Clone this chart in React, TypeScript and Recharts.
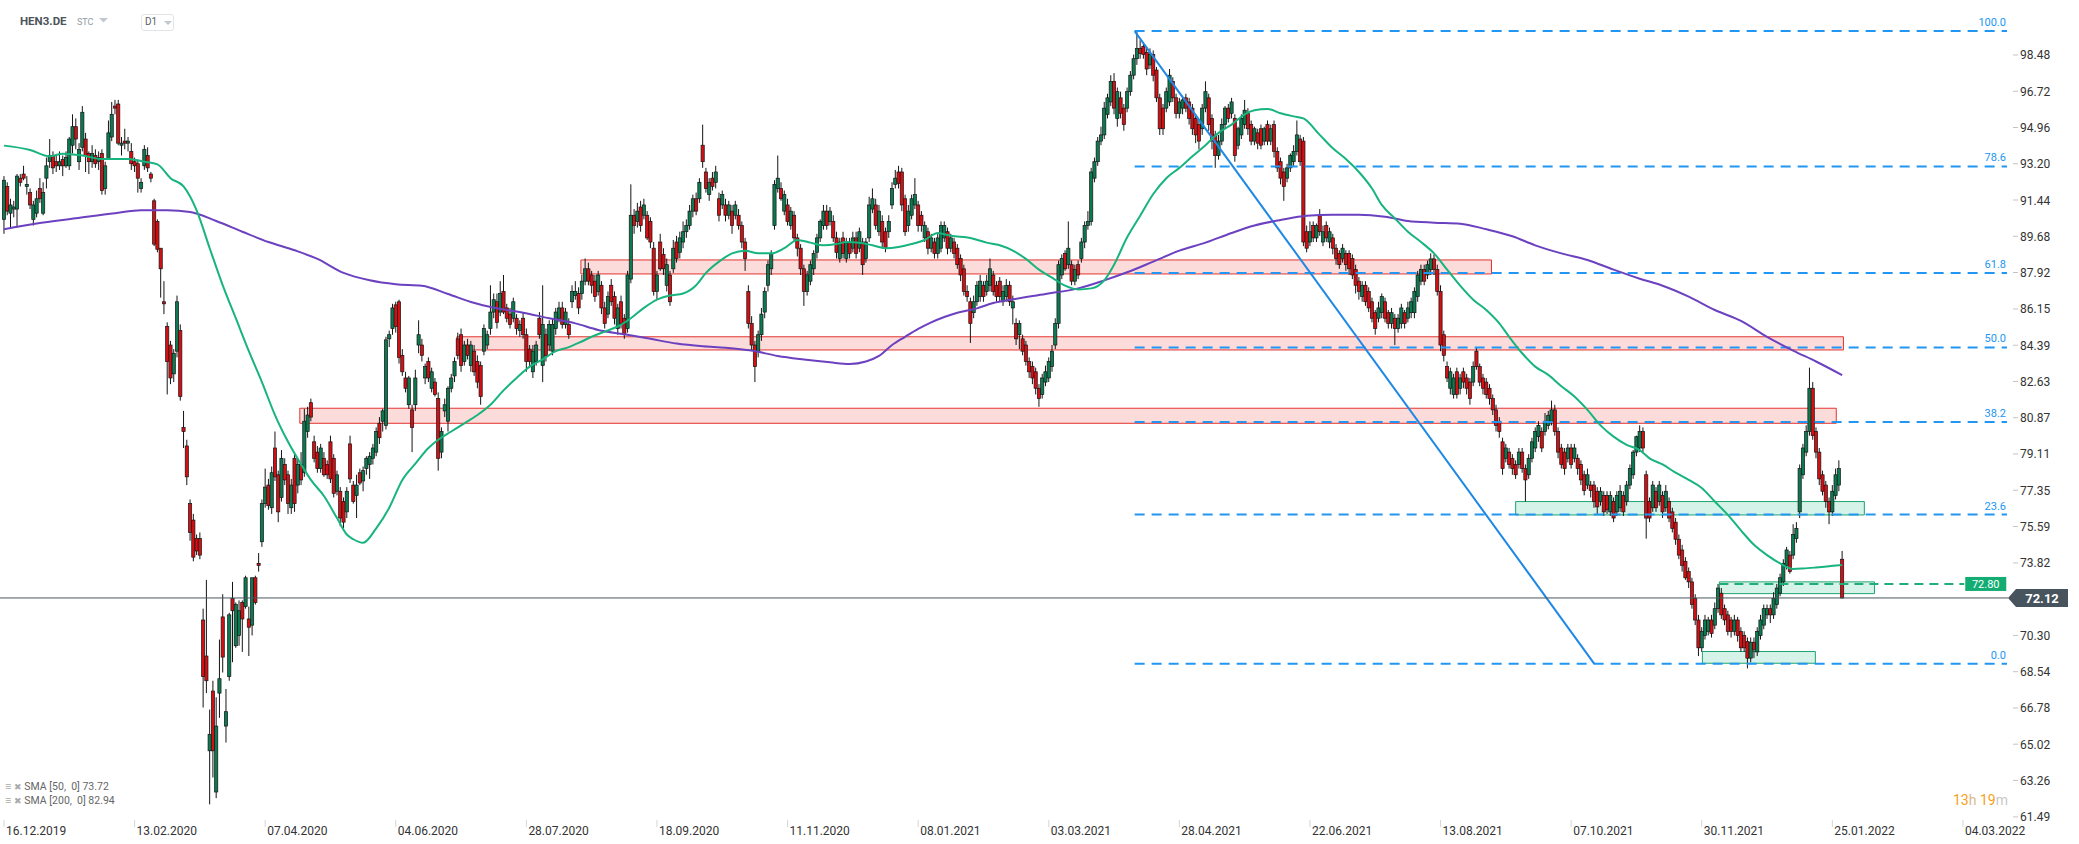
import React from 'react';
import { ComposedChart, Bar, Line, XAxis, YAxis, ReferenceLine, ReferenceArea } from 'recharts';

type C = [number, number, number, number]; // open, high, low, close

const candles2019: C[] = [
  [90.5,92.6,89.8,92.4],[92.1,92.3,90.7,90.9],[90.8,91.5,90.1,91.2],[91.0,91.4,90.6,91.1],[91.0,92.7,90.1,92.6],
  [92.5,92.7,92.1,92.3],[92.7,93.1,92.4,92.5],[92.1,92.6,91.7,92.2],[91.8,92.0,91.0,91.2],[90.5,91.4,90.2,91.2],
  [90.8,91.9,90.6,91.5],[92.0,92.5,91.3,91.5],[90.8,92.3,90.7,91.8],[92.5,93.5,92.0,93.1],[93.3,94.4,93.0,93.6],
  [93.6,93.8,92.7,93.0],[93.3,93.6,92.8,93.1],[93.1,93.8,92.9,93.3],[93.4,93.6,92.6,93.1],[93.1,93.8,93.0,93.5],
  [93.1,94.5,92.9,94.4],[94.1,95.6,93.7,95.0],[95.0,95.4,93.9,94.4],[93.3,94.2,92.9,93.9],[94.0,96.0,93.8,95.7],
  [94.4,94.7,92.8,93.6],[93.7,93.8,92.7,93.3],[93.3,94.1,93.0,93.7],[93.6,93.9,93.0,93.2],[93.3,93.8,92.9,93.5],
  [93.7,93.9,91.7,91.9],[92.0,93.3,91.7,93.1],[93.4,95.3,93.4,94.7],[94.5,96.2,94.3,95.6],[96.0,96.3,95.6,95.9],
  [96.1,96.3,94.1,94.2],[94.1,94.5,93.6,94.2],[94.3,94.9,93.9,94.2],[94.2,94.5,93.8,94.3],[93.8,94.2,92.9,93.2],
  [93.3,93.5,92.8,93.1],[93.2,93.4,91.8,92.5],[92.0,92.5,91.8,92.3],[93.1,94.1,92.9,93.9],[93.6,94.0,92.8,93.0],
  [92.7,92.8,92.3,92.5],[91.4,91.5,89.2,89.3],[90.4,90.5,88.9,89.05],[89.1,89.1,86.7,88.1],[86.5,87.5,85.9,86.4],
];

const candles2020a: C[] = [
  [85.3,85.5,82.0,83.6],[84.4,84.6,82.5,82.8],[83.0,84.2,82.6,84.0],[84.1,86.8,83.8,86.5],[85.1,85.4,81.7,81.9],
  [80.4,81.2,79.4,80.2],[79.5,79.8,77.6,78.0],[76.7,76.9,74.9,75.3],[75.9,76.2,73.9,74.1],[75.0,75.2,74.2,74.4],
  [75.0,75.3,74.0,74.2],[71.05,71.6,66.8,68.3],[69.3,73.0,67.5,68.1],[64.7,66.7,62.1,65.5],[67.6,68.1,63.4,64.7],
  [62.7,67.3,62.4,65.9],[67.5,70.1,66.3,68.2],[71.2,72.3,68.5,69.25],[65.9,67.7,65.1,66.6],[68.3,71.4,68.1,71.3],
  [72.1,72.9,69.0,71.5],[69.8,71.9,69.7,71.8],[70.3,72.0,69.8,71.5],[71.9,72.0,69.5,71.1],[71.7,73.2,71.6,73.1],
  [71.1,71.7,69.3,70.7],[70.8,73.1,70.3,73.1],[73.1,73.2,71.8,71.9],[73.8,74.3,73.4,73.7],[74.85,76.9,74.6,76.7],
  [76.7,78.4,76.5,77.5],[77.6,77.9,76.4,76.6],[76.5,78.5,76.2,78.2],[79.4,80.2,77.8,78.0],[78.1,78.3,75.8,76.3],
  [77.0,79.3,76.8,78.9],[78.6,78.9,77.6,77.85],[78.1,78.3,76.2,76.7],[76.5,77.9,76.2,77.6],[78.9,79.2,76.3,76.7],
  [77.6,78.9,77.2,78.6],[78.6,79.2,77.6,77.85],[78.2,81.3,78.0,80.7],[80.2,81.4,79.9,81.0],[81.6,81.8,80.7,80.9],
  [79.7,80.0,78.7,78.9],[79.2,79.5,78.2,78.4],[78.4,79.6,78.2,79.4],[78.9,79.2,78.0,78.1],[78.6,78.8,77.9,78.1],
  [79.7,80.0,77.7,77.9],[78.9,79.1,77.0,77.2],[77.3,78.3,77.1,78.1],[77.3,77.5,75.6,76.0],[76.8,77.0,75.5,75.8],
  [76.3,77.5,76.0,77.3],[79.6,80.0,77.7,77.9],[77.6,77.8,76.7,76.8],[77.1,78.1,76.0,77.6],[78.2,78.4,77.6,77.7],
  [77.8,78.5,77.3,78.3],[78.4,79.0,78.1,78.9],[78.6,79.2,77.9,79.0],[78.9,79.6,78.6,79.4],[79.2,80.4,79.0,80.2],
  [80.6,80.9,79.6,79.9],[80.7,81.3,80.2,81.2],[80.5,84.8,80.3,84.65],[84.7,85.1,84.3,84.9],[85.2,86.4,84.9,86.2],
  [86.35,86.5,85.0,85.3],[86.5,86.6,83.5,83.8],[83.9,84.2,82.9,83.1],[82.8,83.1,82.1,82.3],[81.5,82.9,81.3,82.8],
  [81.25,81.5,79.2,80.4],[81.5,83.2,81.2,82.8],[84.4,85.6,84.0,84.9],[84.4,84.7,83.6,83.9],[82.8,83.5,82.5,83.35],
];

const candles2020b: C[] = [
  [83.6,83.8,82.6,82.8],[82.3,83.3,82.1,83.1],[82.6,82.8,81.9,82.0],[81.8,82.1,78.3,78.9],[79.2,80.4,78.9,80.2],
  [81.2,81.8,80.9,81.5],[80.7,82.4,80.2,82.3],[82.3,83.0,82.1,82.8],[82.9,83.8,82.6,83.6],[84.7,85.0,83.7,83.9],
  [84.9,85.2,83.1,83.4],[83.6,84.6,83.4,84.4],[84.4,84.7,83.7,83.9],[83.4,84.6,83.1,84.4],[84.1,84.4,82.9,83.1],
  [83.6,83.9,82.3,82.6],[83.4,83.6,81.5,81.9],[84.1,85.4,83.9,85.2],[84.4,85.1,84.2,84.9],[85.2,87.3,84.9,86.0],
  [86.0,86.9,85.7,86.6],[86.5,86.9,85.2,85.5],[86.0,87.5,85.8,86.9],[87.0,87.8,85.9,86.0],[86.2,86.4,85.5,85.7],
  [85.9,86.2,85.2,85.4],[85.7,86.7,85.5,86.5],[85.7,85.9,84.9,85.2],[85.1,85.6,84.8,85.4],[85.7,86.0,84.7,84.9],
  [84.9,85.2,83.1,83.6],[84.2,84.4,83.3,83.6],[83.1,84.4,82.8,84.1],[83.6,84.6,83.4,84.4],[85.7,86.0,84.7,84.9],
  [83.4,87.3,82.6,85.4],[84.9,85.2,83.6,83.9],[84.4,85.6,84.1,85.4],[84.1,85.7,83.9,85.4],[85.2,86.2,84.9,86.0],
  [85.7,86.5,85.5,86.2],[86.2,86.5,85.2,85.4],[85.4,86.2,85.2,86.0],[85.4,85.7,84.7,84.9],[86.5,87.3,86.2,87.0],
  [86.8,87.5,86.6,87.0],[86.9,87.2,85.9,86.2],[86.9,87.8,86.6,87.5],[87.5,88.6,87.3,88.1],[88.1,88.4,87.3,87.5],
  [87.8,88.0,86.9,87.3],[87.5,87.8,86.5,86.75],[87.0,88.0,86.8,87.8],[87.3,87.5,85.9,86.2],[86.2,86.5,85.2,85.45],
  [85.9,87.0,85.7,86.75],[87.3,87.6,86.3,86.5],[86.75,87.0,85.4,85.7],[85.2,86.4,84.9,86.2],[86.5,86.8,85.2,85.45],
  [85.7,85.9,84.7,84.9],[85.2,88.0,85.0,87.8],[87.6,92.2,87.4,90.7],[90.7,91.0,89.8,90.2],[90.4,91.3,90.1,90.9],
  [91.1,91.4,89.9,90.2],[90.7,91.5,90.5,91.2],[90.7,90.9,89.5,89.6],[90.4,90.6,89.1,89.4],[89.1,89.4,86.8,87.0],
  [87.0,88.0,86.6,87.8],[89.4,89.8,88.0,88.1],[88.8,89.1,87.8,88.1],[87.3,88.6,87.0,88.3],[87.8,88.0,86.3,86.5],
  [88.1,89.5,87.9,89.1],[89.4,89.7,88.4,88.6],[88.9,89.9,88.6,89.6],[89.4,90.4,89.1,89.9],[89.9,90.5,89.6,90.2],
];

const candles2021a: C[] = [
  [90.2,91.2,90.0,90.9],[90.9,91.7,90.6,91.5],[91.5,91.8,90.7,90.9],[91.5,92.5,91.3,92.3],[94.1,95.1,93.0,93.3],
  [92.8,93.0,91.8,92.0],[91.7,92.5,91.4,92.3],[92.5,92.8,91.9,92.1],[92.3,93.1,92.0,92.8],[91.5,91.8,90.4,90.7],
  [91.2,91.9,91.0,91.7],[91.2,91.5,90.4,90.7],[90.7,91.4,90.5,91.2],[90.9,91.2,89.8,90.2],[90.7,91.4,90.5,91.2],
  [90.7,91.0,90.0,90.2],[90.2,90.4,89.1,89.4],[89.4,89.6,88.0,88.6],[87.0,87.3,85.2,85.45],[85.45,85.8,84.1,84.4],
  [84.4,84.6,82.6,83.35],[84.1,85.1,83.8,84.9],[84.9,86.2,84.6,85.9],[86.0,87.2,85.7,87.0],[87.3,88.5,87.0,88.3],
  [88.1,89.0,87.8,88.85],[90.2,92.4,90.0,92.2],[92.0,93.6,91.8,92.5],[92.0,92.3,91.4,91.5],[90.9,91.9,90.7,91.7],
  [91.2,91.5,90.2,90.4],[90.2,91.1,90.0,90.9],[90.7,90.9,89.4,89.6],[89.6,89.8,88.7,89.1],[89.1,89.3,87.8,88.1],
  [88.1,88.3,86.3,87.0],[87.0,88.0,86.8,87.8],[87.5,88.5,87.3,88.3],[88.1,89.0,87.8,88.85],[88.9,89.8,88.6,89.6],
  [89.6,90.5,89.4,90.4],[90.2,91.2,90.0,90.9],[90.9,91.2,90.0,90.2],[90.4,91.1,90.2,90.9],[90.4,90.7,89.4,89.6],
  [89.6,89.9,88.6,88.9],[88.6,89.6,88.4,89.4],[89.6,89.9,88.6,88.85],[88.6,89.6,88.4,89.4],[89.4,89.6,88.6,88.85],
  [89.1,89.9,88.9,89.6],[89.6,89.9,88.6,88.85],[89.1,90.1,88.9,89.9],[89.4,89.6,87.8,88.3],[88.6,89.6,88.4,89.4],
  [89.6,91.6,89.4,91.2],[91.0,92.0,90.8,91.5],[91.2,91.5,90.0,90.2],[89.9,91.2,89.7,90.9],[90.4,90.7,89.1,89.4],
  [89.9,90.1,88.9,89.1],[89.9,90.7,89.6,90.4],[91.2,92.3,91.0,92.0],[92.2,92.9,92.0,92.5],[92.8,93.1,92.0,92.25],
  [92.8,93.0,90.9,91.2],[91.5,91.7,89.7,89.9],[90.2,91.2,89.9,90.9],[90.7,91.7,90.5,91.5],[91.2,92.5,91.0,91.7],
  [91.2,91.4,89.9,90.2],[90.7,90.9,89.9,90.2],[89.6,90.4,89.4,90.2],[89.9,90.1,88.8,89.1],[89.1,89.8,88.9,89.6],
  [89.4,89.6,88.6,88.85],[88.85,89.8,88.6,89.6],[89.1,90.4,88.9,90.2],[89.6,90.4,89.4,90.2],[89.9,90.1,88.8,89.1],
];

const candles2021b: C[] = [
  [89.1,89.8,88.9,89.6],[89.4,89.6,88.6,88.85],[89.1,89.3,88.1,88.3],[88.6,88.8,87.5,87.8],[88.1,88.3,86.8,87.0],
  [87.0,87.3,86.5,86.75],[86.5,86.7,84.5,85.45],[85.97,86.8,85.7,86.5],[86.5,87.5,86.3,87.3],[86.75,87.8,86.5,87.5],
  [87.3,87.5,86.5,86.75],[87.0,87.8,86.8,87.5],[87.3,88.6,87.0,88.1],[87.8,88.0,86.8,87.0],[87.3,87.5,86.5,86.75],
  [87.5,87.7,86.5,86.75],[86.5,87.3,86.3,87.0],[86.75,87.6,86.5,87.3],[87.3,87.5,86.3,86.5],[86.2,86.8,85.4,86.5],
  [85.45,85.7,84.4,84.7],[84.9,85.6,84.2,85.45],[84.7,84.9,83.9,84.1],[84.4,84.6,83.4,83.6],[83.6,83.8,82.8,83.1],
  [83.35,83.6,82.5,82.8],[83.1,83.3,82.0,82.3],[82.3,82.5,81.4,81.8],[82.0,83.0,81.8,82.8],[82.6,83.4,82.4,83.1],
  [82.8,83.8,82.6,83.6],[83.35,84.4,83.1,84.1],[84.4,85.7,84.2,85.45],[85.45,88.5,85.2,88.3],[87.8,88.8,87.6,88.6],
  [88.85,89.0,88.0,88.1],[88.3,90.4,88.1,89.1],[88.3,88.5,87.3,87.5],[87.5,88.3,87.3,88.06],[88.3,88.5,87.6,87.8],
  [88.6,89.6,88.4,89.4],[89.4,90.4,89.1,90.2],[90.2,90.9,90.0,90.4],[90.4,93.0,90.2,92.8],[92.5,93.5,92.3,93.3],
  [93.3,94.5,93.1,94.3],[94.3,95.0,94.1,94.6],[94.6,96.2,94.4,95.9],[95.6,96.6,95.4,96.4],[96.2,97.5,96.0,97.2],
  [97.2,97.6,95.6,95.9],[95.4,96.9,95.0,96.7],[96.4,96.7,95.4,95.65],[95.9,96.1,94.8,95.1],[95.9,96.9,95.7,96.7],
  [96.7,97.7,96.5,97.5],[97.5,98.5,97.3,98.3],[98.3,99.6,98.0,98.8],[98.8,99.2,98.3,98.55],[98.9,99.1,98.3,98.5],
  [98.6,98.8,97.5,97.8],[98.0,98.8,97.8,98.5],[98.5,98.7,97.2,97.5],[97.75,97.9,96.2,96.4],[96.4,96.6,94.6,94.9],
  [95.9,96.1,94.6,94.9],[95.9,96.9,95.7,96.7],[96.2,97.8,96.0,97.5],[97.2,97.4,96.2,96.4],[96.4,96.6,95.4,95.65],
  [95.65,96.4,95.4,96.2],[95.9,96.5,95.6,96.3],[96.4,96.6,95.7,95.9],[96.2,96.4,95.1,95.4],[95.9,96.1,94.6,94.9],
  [95.4,95.6,94.2,94.6],[95.1,95.3,93.9,94.3],[94.9,96.1,94.6,95.9],[95.9,97.2,95.7,96.7],[96.4,96.6,94.8,95.1],
  [95.4,95.6,93.9,94.3],[94.6,94.8,93.0,93.6],[93.6,94.6,93.4,94.3],[94.3,95.4,94.1,95.1],[95.1,96.0,94.9,95.9],
  [95.9,96.1,95.2,95.4],[95.65,96.4,95.4,96.2],[95.4,95.6,93.3,93.6],[94.1,95.0,93.9,94.9],[94.6,95.6,94.4,95.4],
  [95.1,96.3,94.9,95.8],[95.65,95.9,94.6,94.9],[95.1,95.3,94.1,94.3],[94.3,95.0,94.1,94.9],[94.7,94.9,93.9,94.2],
  [94.9,95.1,93.9,94.1],[94.3,95.0,94.1,94.9],[95.1,95.3,94.1,94.3],[94.3,95.1,94.1,94.9],[95.1,95.3,93.5,93.8],
  [93.8,94.0,92.8,93.0],[93.3,93.5,92.2,92.5],[92.8,93.0,91.4,92.1],[92.5,93.2,92.3,93.0],[93.0,93.7,92.8,93.6],
  [93.3,94.1,93.1,93.8],[93.8,95.3,93.6,94.6],[94.4,94.6,93.1,93.3],[94.3,94.5,89.2,89.4],[89.9,90.2,88.9,89.1],
  [89.4,90.4,89.2,89.9],[90.2,90.4,89.4,89.6],[89.6,90.3,89.4,90.2],[90.7,91.0,89.7,89.9],[89.4,90.2,89.2,89.9],
  [90.2,90.4,89.4,89.6],[89.4,90.1,89.1,89.9],[89.6,89.8,88.8,89.1],[89.1,89.3,88.3,88.6],[88.85,89.0,88.1,88.3],
  [88.6,89.3,88.4,89.1],[88.85,89.0,88.0,88.3],[88.85,89.0,87.8,88.1],[88.6,88.8,87.6,87.8],[88.06,88.3,86.9,87.3],
  [87.5,87.7,86.6,87.0],[86.75,87.5,86.5,87.3],[87.3,87.5,86.3,86.5],[87.0,87.2,86.0,86.2],
];

const candles2021c: C[] = [
  [86.5,86.7,85.5,85.7],[85.97,86.1,84.9,85.2],[85.7,86.5,85.5,86.2],[85.97,86.9,85.7,86.75],[86.5,86.7,85.5,85.7],
  [85.97,86.1,85.2,85.45],[85.45,86.2,85.2,85.97],[85.7,85.9,84.4,85.2],[85.2,85.9,85.0,85.7],[85.45,86.4,85.2,86.2],
  [85.97,86.1,85.2,85.45],[85.7,86.5,85.5,86.2],[85.97,86.7,85.7,86.5],[85.97,87.2,85.7,87.0],[86.75,88.0,86.5,87.8],
  [87.5,88.3,87.3,88.06],[88.06,88.3,87.3,87.5],[87.8,88.5,87.6,88.3],[88.06,88.85,87.8,88.58],[88.58,88.8,87.8,88.06],
  [88.06,88.3,86.8,87.0],[87.0,87.3,84.1,84.4],[84.9,85.1,83.6,83.9],[83.35,83.6,82.6,82.8],[82.3,83.3,82.0,83.1],
  [82.0,83.0,81.8,82.8],[83.1,83.3,81.8,82.0],[82.3,83.0,82.0,82.8],[83.1,83.3,82.3,82.6],[82.8,83.0,82.0,82.3],
  [82.6,82.8,81.5,81.8],[82.6,83.6,82.4,83.35],[84.1,84.3,83.2,83.35],[83.35,83.5,82.4,82.6],[82.8,83.0,82.0,82.3],
  [82.6,82.8,81.8,82.0],[82.3,82.5,81.5,81.8],[81.8,82.0,81.0,81.25],[81.25,81.5,80.2,80.5],[80.7,80.9,79.9,80.2],
  [79.7,79.9,78.1,78.4],[78.9,79.6,78.7,79.4],[79.2,79.4,78.4,78.6],[78.9,79.1,78.1,78.4],[78.6,78.8,77.9,78.1],
  [78.6,79.4,78.4,79.2],[79.2,79.4,78.2,78.4],[78.4,78.6,76.8,77.85],[78.1,79.1,77.9,78.9],[78.9,79.9,78.7,79.7],
  [79.4,80.4,79.2,80.2],[79.95,80.7,79.7,80.5],[80.2,80.4,79.2,79.4],[80.2,81.1,80.0,80.7],[80.5,81.2,80.3,80.99],
  [80.7,81.7,80.5,81.25],[81.25,81.5,80.0,80.2],[80.2,80.4,78.9,79.2],[79.4,79.6,78.4,78.6],[79.2,79.4,78.1,78.4],
  [78.9,79.6,78.7,79.4],[79.4,79.6,78.4,78.6],[78.9,79.6,78.7,79.4],[78.9,79.1,78.1,78.4],[78.6,78.8,77.6,77.85],
  [78.1,78.3,77.1,77.33],[77.6,78.4,77.4,78.1],[77.6,77.8,77.0,77.33],[77.6,77.8,76.5,76.8],[77.3,77.5,76.2,76.54],
  [76.8,77.5,76.6,77.3],[77.1,77.3,76.1,76.3],[77.1,77.3,76.2,76.4],[76.3,77.3,76.1,77.1],[76.8,77.0,75.8,76.0],
  [76.3,77.3,76.1,77.1],[76.5,77.6,76.3,77.3],[77.1,77.3,76.1,76.3],[76.8,77.8,76.6,77.6],[77.6,78.6,77.4,78.4],
  [78.1,79.3,77.9,79.2],[79.2,80.0,79.0,79.95],[79.4,80.5,79.2,80.2],[80.2,80.4,79.2,79.4],[78.1,78.3,75.0,76.0],
  [76.8,77.0,75.8,76.0],[76.5,77.8,76.3,77.6],[77.3,77.5,76.3,76.5],[76.8,77.8,76.6,77.6],[77.1,77.3,76.0,76.3],
  [76.5,77.6,76.3,77.3],[76.8,77.0,75.8,76.0],[76.3,76.5,75.3,75.5],[75.8,76.0,74.7,74.97],[74.97,75.2,74.0,74.2],
  [74.45,74.7,73.4,73.7],[73.9,74.1,73.0,73.1],[73.4,73.6,72.6,72.9],[72.9,73.1,71.6,71.8],[72.1,72.3,70.8,71.05],
  [71.05,71.3,69.3,69.7],[69.7,70.7,69.5,70.5],[70.3,71.3,70.1,71.05],[70.5,71.2,70.3,71.05],[71.05,71.3,70.2,70.4],
  [70.8,71.9,70.6,71.6],[71.6,72.8,71.4,72.6],[72.35,72.6,71.1,71.3],[71.6,71.8,70.8,71.05],[71.3,71.5,70.3,70.5],
  [71.05,71.2,70.2,70.5],[70.5,71.3,70.3,71.05],[71.05,71.2,70.0,70.3],[70.5,70.7,69.5,69.7],[70.3,70.5,69.5,69.7],
  [70.0,70.2,68.7,69.2],[69.2,70.2,69.0,69.97],[69.97,70.2,69.2,69.6],[69.5,70.7,69.3,70.5],[70.3,71.3,70.1,71.05],
  [70.8,71.8,70.6,71.6],[71.3,71.8,71.1,71.6],[71.6,71.8,70.9,71.3],[71.3,72.4,71.1,72.1],[71.8,72.8,71.6,72.6],
  [72.35,73.3,72.2,73.1],[72.9,74.0,72.7,73.8],[73.7,74.6,73.5,74.45],[74.2,74.4,73.3,73.4],
];

const candles2022: C[] = [
  [74.2,75.7,74.0,75.2],[75.0,75.8,74.8,75.5],[76.3,78.6,76.0,78.4],[78.1,79.6,77.9,79.4],[79.2,80.5,79.0,80.2],
  [80.2,83.3,80.0,82.3],[82.3,82.6,79.8,80.0],[80.2,80.4,78.9,79.2],[79.2,79.4,77.6,77.9],[78.1,78.3,77.1,77.3],
  [77.6,77.8,76.5,76.8],[76.8,77.0,75.7,76.3],[76.3,77.6,76.1,77.3],[77.1,78.4,76.9,78.1],[77.6,78.8,77.3,78.4],
  [74.0,74.4,72.1,72.12],
];

// SMA readings: [candle index, value]
const sma50Points: [number, number][] = [
  [0,94.08],[8,93.87],[14,93.56],[18,93.69],[24,93.6],[30,93.43],[38,93.43],[43,93.3],[47,93.17],[51,92.5],
  [55,92.1],[59,90.94],[63,89.1],[67,87.3],[71,85.7],[75,84.1],[79,82.6],[83,81.0],[87,79.7],[91,78.6],
  [94,77.85],[98,77.07],[102,76.0],[105,75.2],[107,74.97],[110,74.8],[114,75.5],[118,76.5],[122,77.85],[126,78.64],
  [130,79.4],[133,79.8],[137,80.2],[141,80.6],[145,81.0],[149,81.5],[153,82.2],[157,82.8],[161,83.35],[165,83.7],
  [169,84.1],[173,84.3],[176,84.5],[180,84.8],[184,85.05],[188,85.3],[192,85.7],[196,86.2],[200,86.6],[204,86.8],
  [208,86.9],[212,87.3],[215,87.9],[219,88.45],[223,88.85],[227,88.98],[231,88.85],[235,88.85],[239,89.1],[243,89.5],
  [247,89.37],[251,89.24],[255,89.3],[258,89.4],[262,89.37],[266,89.24],[270,89.1],[274,89.16],[278,89.3],[282,89.5],
  [286,89.84],[290,89.7],[296,89.6],[301,89.37],[305,89.24],[309,88.98],[313,88.58],[317,88.06],[321,87.67],[325,87.28],
  [329,87.1],[333,87.15],[337,87.54],[340,88.3],[344,89.63],[348,90.68],[352,91.73],[356,92.5],[360,93.0],[364,93.56],
  [368,94.1],[372,94.7],[376,95.1],[380,95.6],[383,95.8],[387,95.86],[391,95.65],[395,95.5],[398,95.4],[403,94.6],
  [407,93.95],[411,93.43],[415,92.8],[419,92.0],[422,91.2],[426,90.55],[430,89.9],[434,89.4],[438,88.85],[442,88.06],
  [446,87.28],[450,86.6],[454,86.1],[458,85.45],[461,84.8],[465,84.0],[469,83.35],[473,82.95],[477,82.4],[481,81.9],
  [485,81.25],[489,80.5],[493,79.95],[497,79.55],[501,79.3],[504,78.9],[508,78.6],[512,78.2],[516,77.85],[520,77.46],
  [524,76.8],[528,76.15],[532,75.4],[536,74.7],[540,74.2],[544,73.8],[548,73.53],[551,73.55],[555,73.6],[559,73.66],
  [563,73.72],
];

const sma200Points: [number, number][] = [
  [0,90.02],[10,90.3],[22,90.55],[34,90.8],[42,90.94],[50,90.94],[57,90.86],[65,90.42],[73,89.9],[81,89.4],
  [89,89.0],[96,88.58],[104,87.9],[112,87.54],[120,87.35],[128,87.28],[136,86.88],[143,86.49],[151,86.18],[159,85.97],
  [167,85.7],[175,85.45],[182,85.13],[190,84.92],[198,84.7],[206,84.47],[214,84.34],[221,84.27],[229,84.13],[237,83.87],
  [245,83.7],[253,83.56],[259,83.48],[264,83.6],[268,83.87],[272,84.4],[276,84.8],[280,85.18],[284,85.5],[288,85.76],
  [292,85.97],[298,86.18],[303,86.44],[309,86.62],[319,86.88],[329,87.15],[337,87.54],[344,87.93],[352,88.45],[360,88.98],
  [368,89.37],[376,89.84],[383,90.2],[391,90.47],[399,90.68],[407,90.73],[415,90.73],[423,90.63],[430,90.42],[438,90.34],
  [446,90.29],[454,90.02],[462,89.68],[469,89.24],[477,88.85],[485,88.53],[493,88.06],[501,87.62],[508,87.28],[516,86.75],
  [524,86.1],[532,85.57],[540,84.8],[548,84.13],[555,83.6],[563,82.94],
];

const xTickIdx = [0, 40, 80, 120, 160, 200, 240, 280, 320, 360, 400, 440, 480, 520, 560, 600];
const xTickLabels = ['16.12.2019','13.02.2020','07.04.2020','04.06.2020','28.07.2020','18.09.2020','11.11.2020','08.01.2021',
  '03.03.2021','28.04.2021','22.06.2021','13.08.2021','07.10.2021','30.11.2021','25.01.2022','04.03.2022'];
const yTicks = [98.48,96.72,94.96,93.20,91.44,89.68,87.92,86.15,84.39,82.63,80.87,79.11,77.35,75.59,73.82,70.30,68.54,66.78,65.02,63.26,61.49];

const fibLabels = ['100.0','78.6','61.8','50.0','38.2','23.6','0.0'];
const fibValues = [99.64, 93.07, 87.90, 84.28, 80.66, 76.17, 68.92];
const fibStart = 346.3;
const fibEnd = 613.5;
const trendFrom = { x: 346.3, y: 99.64 };
const trendTo = { x: 487.1, y: 68.92 };

const redZones = [
  { x1: 176.7, x2: 455.6, y1: 87.85, y2: 88.53 },
  { x1: 138.7, x2: 563.4, y1: 84.16, y2: 84.8 },
  { x1: 90.6, x2: 561.2, y1: 80.6, y2: 81.33 },
];
const greenZones = [
  { x1: 463.0, x2: 569.8, y1: 76.15, y2: 76.8 },
  { x1: 525.4, x2: 572.9, y1: 72.33, y2: 72.9 },
  { x1: 520.2, x2: 554.8, y1: 68.95, y2: 69.52 },
];
const lastPrice = 72.12;
const orderLevel = 72.80;
const orderFrom = 525.4;
const orderTo = 600.4;

const allCandles: C[] = [...candles2019, ...candles2020a, ...candles2020b, ...candles2021a, ...candles2021b, ...candles2021c, ...candles2022];
const rows = allCandles.map(([o, h, l, c], i) => ({ i, o, h, l, c }));
const sma50Rows = sma50Points.map(([i, v]) => ({ i, sma50: v }));
const sma200Rows = sma200Points.map(([i, v]) => ({ i, sma200: v }));

const GREEN = '#0c7a51';
const RED = '#d40f14';
const FIB = '#2196f3';
const FONT = 'Roboto, "Noto Sans", sans-serif';

const Candle = (props: any) => {
  const { x, y, width, height, payload } = props;
  if (!payload || x == null || y == null) return null;
  const { o, h, l, c } = payload;
  const top = Math.min(y, y + height);
  const hgt = Math.abs(height);
  const range = h - l || 1;
  const py = (v: number) => top + ((h - v) / range) * hgt;
  const cx = x + width / 2;
  const up = c >= o;
  const bt = py(Math.max(o, c));
  const bb = py(Math.min(o, c));
  return (
    <g>
      <line x1={cx} x2={cx} y1={top} y2={top + hgt} stroke="#151515" strokeWidth={1} />
      <rect x={cx - 1.6} y={bt} width={3.2} height={Math.max(bb - bt, 0.8)} fill={up ? GREEN : RED} stroke="#151515" strokeWidth={0.7} />
    </g>
  );
};

const XTick = (props: any) => {
  const { x, y, payload } = props;
  const k = xTickIdx.indexOf(payload.value);
  return (
    <g>
      <line x1={x} x2={x} y1={y} y2={y + 7} stroke="#d6d6d6" strokeWidth={1} />
      <text x={x + 2} y={y + 15} fontSize={12} fill="#333" fontFamily={FONT}>{xTickLabels[k]}</text>
    </g>
  );
};

const YTick = (props: any) => {
  const { x, y, payload } = props;
  return (
    <g>
      <line x1={x + 5} x2={x + 10} y1={y} y2={y} stroke="#c4c4c4" strokeWidth={1} />
      <text x={x + 12} y={y + 4.5} fontSize={12} fill="#333" fontFamily={FONT}>{Number(payload.value).toFixed(2)}</text>
    </g>
  );
};

const endOf = (vb: any) => {
  if (!vb) return { x: 0, y: 0 };
  if (vb.x2 != null) return { x: Math.max(vb.x1, vb.x2), y: vb.y1 };
  return { x: (vb.x ?? 0) + (vb.width ?? 0), y: vb.y ?? 0 };
};

const fibLabel = (text: string) => (p: any) => {
  const e = endOf(p.viewBox);
  return <text x={e.x - 1} y={e.y - 5} textAnchor="end" fontSize={11} fill={FIB} fontFamily={FONT}>{text}</text>;
};

const priceLabel = (p: any) => {
  const e = endOf(p.viewBox);
  const x = e.x, y = e.y;
  return (
    <g>
      <polygon points={`${x},${y} ${x + 8},${y - 9} ${x + 60},${y - 9} ${x + 60},${y + 9} ${x + 8},${y + 9}`} fill="#47535d" />
      <text x={x + 34} y={y + 5} textAnchor="middle" fontSize={13} fontWeight={700} fill="#fff" fontFamily={FONT}>72.12</text>
    </g>
  );
};

const orderLabel = (p: any) => {
  const e = endOf(p.viewBox);
  return (
    <g>
      <rect x={e.x + 1} y={e.y - 7} width={41} height={14} fill="#13ad74" />
      <text x={e.x + 21.5} y={e.y + 4} textAnchor="middle" fontSize={11} fill="#fff" fontFamily={FONT}>72.80</text>
    </g>
  );
};

export default function App() {
  return (
    <div style={{ position: 'absolute', left: 0, top: 0, width: 2079, height: 844, background: '#fff', fontFamily: FONT }}>
      <ComposedChart width={2079} height={844} data={rows} margin={{ top: 0, right: 0, bottom: 0, left: 0 }}>
        <XAxis dataKey="i" type="number" domain={[-1.225, 613.8]} allowDataOverflow ticks={xTickIdx} interval={0}
          axisLine={false} tickLine={false} tickSize={0} tickMargin={0} height={24} tick={<XTick />} />
        <YAxis orientation="right" type="number" domain={[61.34, 101.15]} allowDataOverflow ticks={yTicks} interval={0}
          axisLine={false} tickLine={false} tickSize={0} tickMargin={0} width={71} tick={<YTick />} />
        {redZones.map((z, k) => (
          <ReferenceArea key={'r' + k} x1={z.x1} x2={z.x2} y1={z.y1} y2={z.y2} fill="#f05a5a" fillOpacity={0.22} stroke="#e3342f" strokeWidth={1} strokeOpacity={1} />
        ))}
        {greenZones.map((z, k) => (
          <ReferenceArea key={'g' + k} x1={z.x1} x2={z.x2} y1={z.y1} y2={z.y2} fill="#2dc48a" fillOpacity={0.2} stroke="#1fa572" strokeWidth={1} strokeOpacity={1} />
        ))}
        {fibValues.map((v, k) => (
          <ReferenceLine key={'f' + k} segment={[{ x: fibStart, y: v }, { x: fibEnd, y: v }]} stroke={FIB} strokeWidth={2}
            strokeDasharray="10 7" label={{ content: fibLabel(fibLabels[k]) } as any} />
        ))}
        <ReferenceLine segment={[trendFrom, trendTo]} stroke="#1e88e5" strokeWidth={2} />
        <ReferenceLine y={lastPrice} stroke="#4a565f" strokeWidth={1} label={{ content: priceLabel } as any} />
        <ReferenceLine segment={[{ x: orderFrom, y: orderLevel }, { x: orderTo, y: orderLevel }]} stroke="#1fae78" strokeWidth={2}
          strokeDasharray="9 6" label={{ content: orderLabel } as any} />
        <Line data={sma200Rows} dataKey="sma200" type="monotone" stroke="#6b41c0" strokeWidth={2} dot={false} activeDot={false} isAnimationActive={false} />
        <Line data={sma50Rows} dataKey="sma50" type="monotone" stroke="#17b47e" strokeWidth={2} dot={false} activeDot={false} isAnimationActive={false} />
        <Bar dataKey={(d: any) => [d.l, d.h]} barSize={3.2} shape={<Candle />} isAnimationActive={false} />
      </ComposedChart>

      <div style={{ position: 'absolute', left: 20, top: 14, fontSize: 11.5, fontWeight: 700, color: '#4b535b' }}>HEN3.DE</div>
      <div style={{ position: 'absolute', left: 77, top: 17, fontSize: 9, color: '#8f9ba6' }}>STC</div>
      <svg style={{ position: 'absolute', left: 99, top: 18 }} width={10} height={6}><polygon points="0,0 9,0 4.5,4.5" fill="#c2c8ce" /></svg>
      <div style={{ position: 'absolute', left: 141, top: 14, width: 33, height: 17, border: '1px solid #e2e5e8', borderRadius: 3, boxSizing: 'border-box' }} />
      <div style={{ position: 'absolute', left: 145, top: 16, fontSize: 10, color: '#5b6268' }}>D1</div>
      <svg style={{ position: 'absolute', left: 164, top: 21 }} width={9} height={5}><polygon points="0,0 8,0 4,4" fill="#c2c8ce" /></svg>

      <div style={{ position: 'absolute', left: 5, top: 780, fontSize: 10.5, color: '#666', lineHeight: '14px', whiteSpace: 'nowrap' }}>
        <div><span style={{ color: '#aaa' }}>≡</span> <span style={{ color: '#aaa', fontSize: 9 }}>✖</span> SMA [50,&nbsp; 0] 73.72</div>
        <div><span style={{ color: '#aaa' }}>≡</span> <span style={{ color: '#aaa', fontSize: 9 }}>✖</span> SMA [200,&nbsp; 0] 82.94</div>
      </div>

      <div style={{ position: 'absolute', left: 1953, top: 792, fontSize: 14, whiteSpace: 'nowrap' }}>
        <span style={{ color: '#f5a01a' }}>13</span><span style={{ color: '#d9b98c' }}>h</span>
        <span style={{ color: '#f5a01a' }}> 19</span><span style={{ color: '#c8c8c8' }}>m</span>
      </div>
    </div>
  );
}
